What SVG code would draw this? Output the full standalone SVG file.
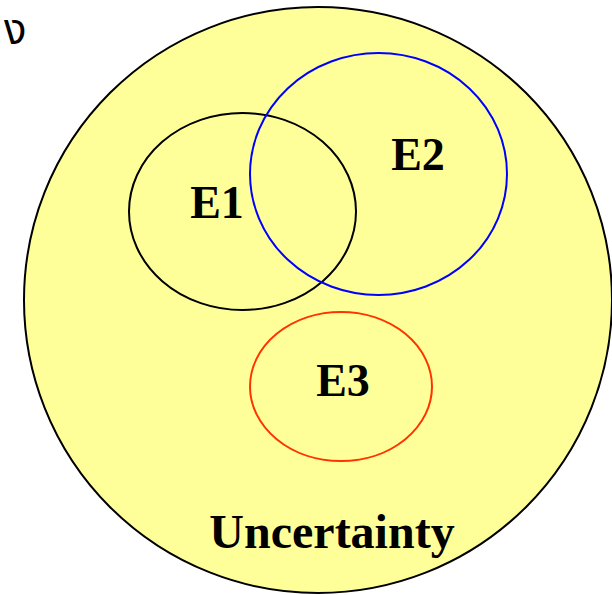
<svg xmlns="http://www.w3.org/2000/svg" width="612" height="595" viewBox="0 0 612 595">
<style>
.lbl{font-family:"Liberation Serif","Times New Roman",serif;font-weight:bold;font-size:46px;fill:#000}
.set{fill:none;stroke-width:2}
</style>
<rect width="612" height="595" fill="#fff"/>
<g id="uncertainty">
<ellipse cx="318" cy="300" rx="294" ry="293" fill="#ffff99" stroke="#000" stroke-width="2"/>
<text class="lbl" x="332" y="548" text-anchor="middle" style="font-size:48px">Uncertainty</text>
</g>
<g id="E1">
<ellipse class="set" cx="242.5" cy="211.5" rx="113.5" ry="98.5" stroke="#000"/>
<text class="lbl" x="217" y="218" text-anchor="middle">E1</text>
</g>
<g id="E2">
<ellipse class="set" cx="378.5" cy="174" rx="128.5" ry="121" stroke="#0000ff"/>
<text class="lbl" x="418" y="170" text-anchor="middle">E2</text>
</g>
<g id="E3">
<ellipse class="set" cx="341" cy="386.5" rx="91" ry="74.5" stroke="#ff3300"/>
<text class="lbl" x="343" y="396" text-anchor="middle">E3</text>
</g>
<text x="4" y="44" font-family="'Noto Sans Thai','DejaVu Sans',sans-serif" font-size="42" fill="#000">ง</text>
</svg>
